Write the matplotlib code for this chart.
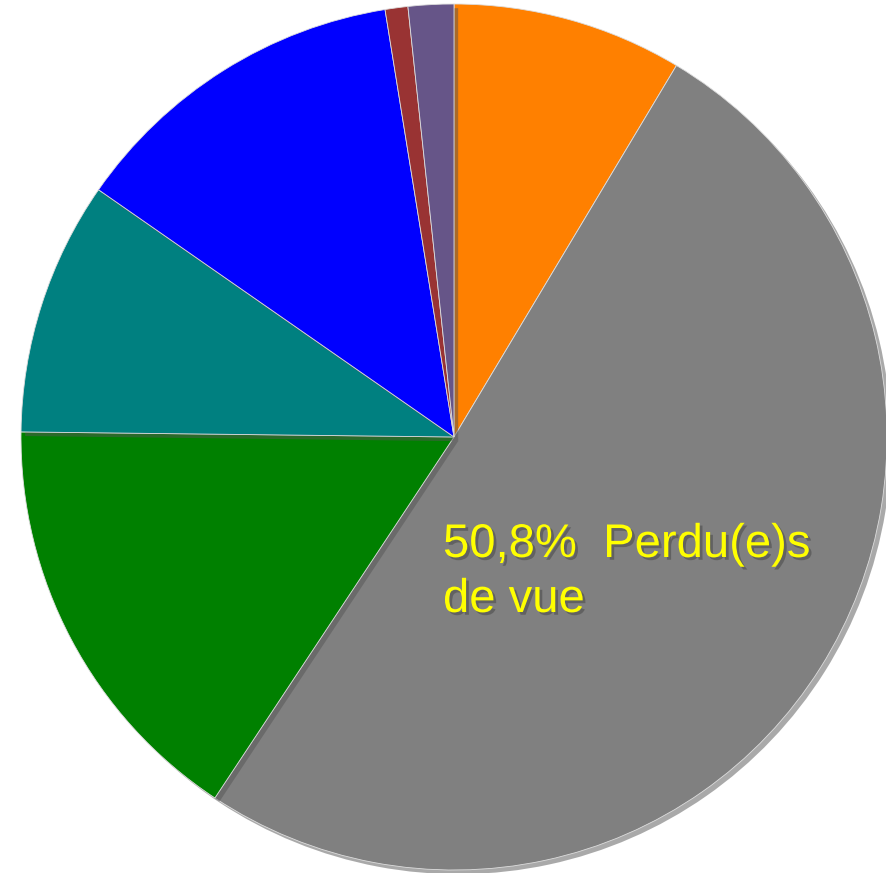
import matplotlib
matplotlib.use("Agg")
import matplotlib.pyplot as plt
import matplotlib.patheffects as pe

labels = ["Orange", "Perdu(e)s de vue", "Green", "Teal", "Blue", "Brown", "Purple"]
values = [8.6, 50.8, 15.9, 9.5, 12.8, 0.85, 1.7]
colors = ["#FF8000", "#808080", "#008000", "#008080", "#0000FF", "#993333", "#665588"]
label_lines = ["50,8%  Perdu(e)s", "de vue"]

W, H = 887, 873
fig = plt.figure(figsize=(W / 100, H / 100), dpi=100)
cx, cy, r = 454, 437, 433
ax = fig.add_axes([(cx - r) / W, (H - cy - r) / H, 2 * r / W, 2 * r / H])
wedges, _ = ax.pie(values, colors=colors, startangle=90, counterclock=False,
                   radius=1, wedgeprops=dict(edgecolor="#dddddd", linewidth=0.6))
for w in wedges:
    w.set_path_effects([pe.SimplePatchShadow(offset=(3, -3), shadow_rgbFace="#555555", alpha=0.5), pe.Normal()])
ax.set_xlim(-1, 1)
ax.set_ylim(-1, 1)
ax.set_aspect("equal")
ax.axis("off")

for line, base in zip(label_lines, [557, 612]):
    ax.text((443 - cx) / r, (cy - base) / r, line, color="#FFFF00",
            fontsize=34, family=["Liberation Sans", "DejaVu Sans"], ha="left", va="baseline",
            path_effects=[pe.withSimplePatchShadow(offset=(2, -2), shadow_rgbFace="#444444", alpha=0.5)])

fig.savefig("out.png", dpi=100)
